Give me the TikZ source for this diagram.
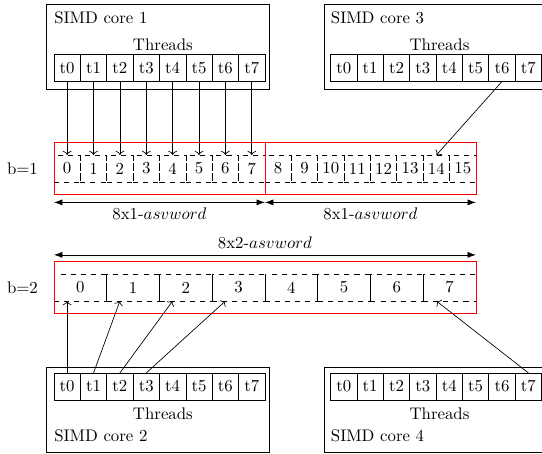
\documentclass[tikz,border=0pt]{standalone}
\usetikzlibrary{arrows.meta}

\tikzstyle{thread} = [draw, minimum width=0.552cm, minimum height=0.565cm, inner sep=0pt, outer sep=0pt]
\tikzstyle{slot} = [draw, dashed, minimum height=0.565cm, inner sep=0pt, outer sep=0pt]
\tikzstyle{word} = [draw=red]
\tikzstyle{span} = [{Latex[length=5pt,width=3.6pt]}-{Latex[length=5pt,width=3.6pt]}]

\begin{document}
\begin{tikzpicture}
\useasboundingbox (0,0) rectangle (11.345,-9.5);

% cores 1 and 3
\draw (0.977,-0.084) rectangle (5.635,-1.868);
\draw (6.785,-0.084) rectangle (11.45,-1.868);
\node[anchor=west] (core1) at (1.013,-0.38) {SIMD core 1};
\node[anchor=west] (core3) at (6.803,-0.38) {SIMD core 3};
\node (th1) at (3.41,-0.94) {Threads};
\node (th3) at (9.2,-0.94) {Threads};
\foreach \i in {0,...,7} {
  \node[thread] (c1t\i) at (1.406+0.552*\i,-1.423) {t\i};
  \node[thread] (c3t\i) at (7.196+0.552*\i,-1.423) {t\i};
}

% cores 2 and 4
\draw (0.977,-7.692) rectangle (5.635,-9.477);
\draw (6.785,-7.692) rectangle (11.45,-9.477);
\node[anchor=west] (core2) at (1.013,-9.13) {SIMD core 2};
\node[anchor=west] (core4) at (6.803,-9.13) {SIMD core 4};
\node (th2) at (3.41,-8.66) {Threads};
\node (th4) at (9.2,-8.66) {Threads};
\foreach \i in {0,...,7} {
  \node[thread] (c2t\i) at (1.406+0.552*\i,-8.088) {t\i};
  \node[thread] (c4t\i) at (7.196+0.552*\i,-8.088) {t\i};
}

% b=1
\node (b1) at (0.47,-3.528) {b=1};
\foreach \i in {0,...,15}
  \node[slot, minimum width=0.552cm] (a\i) at (1.406+0.552*\i,-3.528) {\i};
\draw[word] (1.13,-2.985) rectangle (5.546,-4.065);
\draw[word] (5.546,-2.985) rectangle (9.962,-4.065);

% b=2
\node (b2) at (0.47,-6.018) {b=2};
\foreach \i in {0,...,7}
  \node[slot, minimum width=1.104cm] (w\i) at (1.682+1.104*\i,-6.018) {\i};
\draw[word] (1.13,-5.475) rectangle (9.962,-6.569);

% word widths
\coordinate (s0) at (1.13,-4.236);
\coordinate (s1) at (5.546,-4.236);
\coordinate (s2) at (9.962,-4.236);
\coordinate (u0) at (1.13,-5.335);
\coordinate (u1) at (9.962,-5.335);
\draw[span] (s0) -- node[below] {8x1-$asvword$} (s1);
\draw[span] (s1) -- node[below] {8x1-$asvword$} (s2);
\draw[span] (u0) -- node[above] {8x2-$asvword$} (u1);

% threads to elements
\foreach \i in {0,...,7}
  \draw[->] (c1t\i.south) -- (a\i.north);
\draw[->] (c3t6.south) -- (a14.north);
\draw[->] (c2t0.north) -- (a0 |- w0.south);
\draw[->] (c2t1.north) -- (a2 |- w1.south);
\draw[->] (c2t2.north) -- (a4 |- w2.south);
\draw[->] (c2t3.north) -- (a6 |- w3.south);
\draw[->] (c4t7.north) -- (a14 |- w7.south);
\end{tikzpicture}
\end{document}
